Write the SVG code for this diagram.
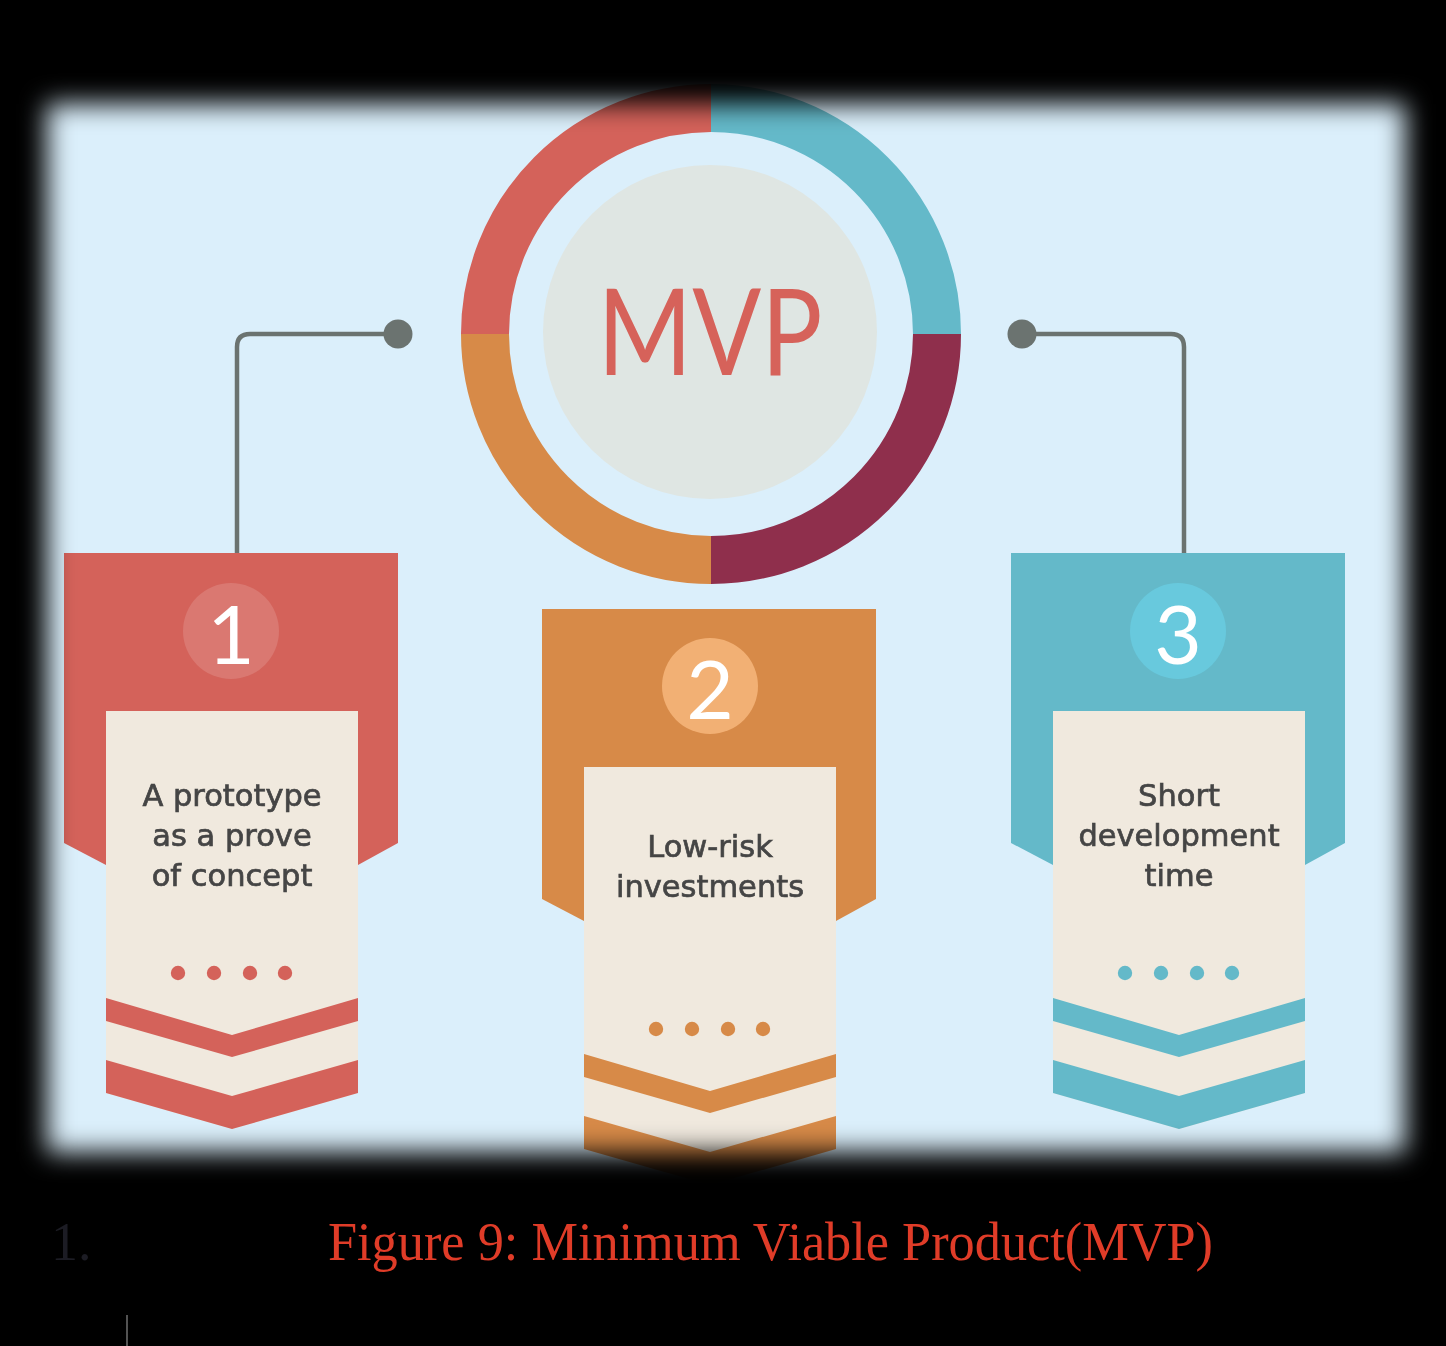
<svg xmlns="http://www.w3.org/2000/svg" width="1446" height="1346" viewBox="0 0 1446 1346">
  <style>
    .panel { fill: #dbeffb; }
    .conn { fill: none; stroke: #6b7370; stroke-width: 4.5; stroke-linejoin: round; }
    .conn-dot { fill: #6b7370; }
    .seg { fill: none; stroke-width: 48; }
    .hdr { fill: currentColor; }
    .card { fill: #f0e9de; }
    .label { font-family: "DejaVu Sans", "Liberation Sans", sans-serif; font-size: 30.5px; fill: #454545; stroke: #454545; stroke-width: 0.7px; text-anchor: middle; }
    .digit { font-family: "Lato", "DejaVu Sans", sans-serif; font-size: 82px; fill: #ffffff; text-anchor: middle; }
    .red { color: #d4625a; }
    .orange { color: #d78a48; }
    .teal { color: #64b9c9; }
    .caption { font-family: "Liberation Serif", "Times New Roman", serif; font-size: 54px; }
  </style>
  <defs>
    <!-- soft edge of the light panel -->
    <filter id="soft" x="-10%" y="-10%" width="120%" height="120%">
      <feGaussianBlur stdDeviation="13"/>
    </filter>
    <mask id="panelMask" maskUnits="userSpaceOnUse" x="0" y="0" width="1446" height="1346">
      <rect x="47" y="104" width="1358" height="1048" fill="#ffffff" filter="url(#soft)"/>
    </mask>
    <!-- banner pieces, local coordinates (origin = banner top-left) -->
    <path id="hdrShape" d="M0 0 H334 V290 L294 312 H42 L0 290 Z"/>
    <path id="cardShape" d="M42 158 H294 V540 L168 576 L42 540 Z"/>
    <path id="bandShape" d="M42 445 L168 482 L294 445 V468 L168 504 L42 468 Z M42 507 L168 543 L294 507 V540 L168 576 L42 540 Z"/>
    <g id="dots">
      <circle cx="114" cy="420" r="7.2"/>
      <circle cx="150" cy="420" r="7.2"/>
      <circle cx="186" cy="420" r="7.2"/>
      <circle cx="221" cy="420" r="7.2"/>
    </g>
  </defs>

  <rect width="1446" height="1346" fill="#000000"/>

  <g mask="url(#panelMask)">
    <rect class="panel" x="0" y="0" width="1446" height="1250"/>

    <!-- connectors from the hub to banners 1 and 3 -->
    <g id="connectors">
      <path class="conn" d="M398 334 H250 Q237 334 237 347 V555"/>
      <circle class="conn-dot" cx="398" cy="334" r="14.5"/>
      <path class="conn" d="M1022 334 H1171 Q1184 334 1184 347 V555"/>
      <circle class="conn-dot" cx="1022" cy="334" r="14.5"/>
    </g>

    <!-- central MVP hub -->
    <g id="hub">
      <path class="seg" stroke="#d4625a" d="M485 334 A226 226 0 0 1 711 108"/>
      <path class="seg" stroke="#64b9c9" d="M711 108 A226 226 0 0 1 937 334"/>
      <path class="seg" stroke="#8f2f4c" d="M937 334 A226 226 0 0 1 711 560"/>
      <path class="seg" stroke="#d78a48" d="M711 560 A226 226 0 0 1 485 334"/>
      <circle cx="710" cy="332" r="167" fill="#dfe6e3"/>
      <text x="710" y="375" font-family="Lato, 'DejaVu Sans', sans-serif" font-size="121" fill="#d6625a" text-anchor="middle" textLength="225" lengthAdjust="spacingAndGlyphs">MVP</text>
    </g>

    <!-- banner 1 -->
    <g id="banner-1" class="red" transform="translate(64 553)">
      <use href="#hdrShape" class="hdr"/>
      <circle cx="167" cy="78" r="48" fill="#ffffff" fill-opacity="0.14"/>
      <text class="digit" x="167" y="111">1</text>
      <use href="#cardShape" class="card"/>
      <use href="#bandShape" class="hdr"/>
      <use href="#dots" fill="currentColor"/>
      <text class="label" x="168" y="253">A prototype</text>
      <text class="label" x="168" y="293">as a prove</text>
      <text class="label" x="168" y="333">of concept</text>
    </g>

    <!-- banner 2 -->
    <g id="banner-2" class="orange" transform="translate(542 609)">
      <use href="#hdrShape" class="hdr"/>
      <circle cx="168" cy="77" r="48" fill="#f2b074"/>
      <text class="digit" x="168" y="110">2</text>
      <use href="#cardShape" class="card"/>
      <use href="#bandShape" class="hdr"/>
      <use href="#dots" fill="currentColor"/>
      <text class="label" x="168" y="248">Low-risk</text>
      <text class="label" x="168" y="288">investments</text>
    </g>

    <!-- banner 3 -->
    <g id="banner-3" class="teal" transform="translate(1011 553)">
      <use href="#hdrShape" class="hdr"/>
      <circle cx="167" cy="78" r="48" fill="#68c9dd"/>
      <text class="digit" x="167" y="111">3</text>
      <use href="#cardShape" class="card"/>
      <use href="#bandShape" class="hdr"/>
      <use href="#dots" fill="currentColor"/>
      <text class="label" x="168" y="253">Short</text>
      <text class="label" x="168" y="293">development</text>
      <text class="label" x="168" y="333">time</text>
    </g>
  </g>

  <!-- caption below the figure -->
  <g id="caption">
    <text class="caption" x="51" y="1260" fill="#1c1c24">1.</text>
    <text class="caption" x="328" y="1260" fill="#e03c28" textLength="885" lengthAdjust="spacingAndGlyphs">Figure 9: Minimum Viable Product(MVP)</text>
    <line x1="127" y1="1315" x2="127" y2="1346" stroke="#8a8a8a" stroke-width="1.2"/>
  </g>
</svg>
